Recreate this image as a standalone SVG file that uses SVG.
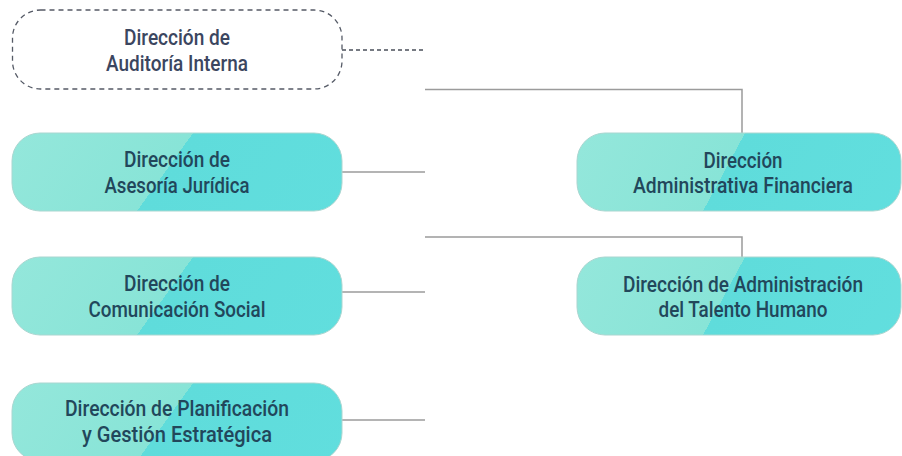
<svg xmlns="http://www.w3.org/2000/svg" width="902" height="456" viewBox="0 0 902 456">
  <defs>
    <linearGradient id="fillL" gradientUnits="userSpaceOnUse" x1="0" y1="0" x2="330" y2="236.9">
      <stop offset="0" stop-color="#94e7db"/>
      <stop offset="0.362" stop-color="#88e4d7"/>
      <stop offset="0.362" stop-color="#5fdcdb"/>
      <stop offset="1" stop-color="#62dfdf"/>
    </linearGradient>
    <linearGradient id="fillR" gradientUnits="userSpaceOnUse" x1="0" y1="0" x2="324" y2="174.5">
      <stop offset="0" stop-color="#94e7db"/>
      <stop offset="0.402" stop-color="#88e4d7"/>
      <stop offset="0.402" stop-color="#5fdcdb"/>
      <stop offset="1" stop-color="#62dfdf"/>
    </linearGradient>
    <style>
      .box { stroke: #a9d6d0; stroke-width: 1; }
      .boxL { fill: url(#fillL); }
      .boxR { fill: url(#fillR); }
      .dash { fill: #ffffff; stroke: #555a66; stroke-width: 1.3; stroke-dasharray: 5 4; }
      .t { font-family: Roboto, "Liberation Sans", sans-serif; font-size: 22px; font-weight: 500; fill: #22475b; text-anchor: middle; }
      .td { fill: #3b4660; }
      .c { fill: none; stroke: #9b9b9b; stroke-width: 1.5; }
      .cd { fill: none; stroke: #4a4f5a; stroke-width: 1.5; stroke-dasharray: 4 3; }
    </style>
  </defs>

  <g id="connectors">
    <line class="cd" x1="342" y1="50" x2="425" y2="50"/>
    <polyline class="c" points="425,89.5 742,89.5 742,133"/>
    <line class="c" x1="342" y1="172" x2="425" y2="172"/>
    <polyline class="c" points="425,237 742,237 742,257"/>
    <line class="c" x1="342" y1="292" x2="425" y2="292"/>
    <line class="c" x1="342" y1="420" x2="425" y2="420"/>
  </g>

  <g id="auditoria">
    <rect class="dash" x="12.5" y="10" width="329.5" height="79" rx="28"/>
    <text class="t td" x="177" y="45" textLength="106" lengthAdjust="spacingAndGlyphs">Dirección de</text>
    <text class="t td" x="177" y="71" textLength="142" lengthAdjust="spacingAndGlyphs">Auditoría Interna</text>
  </g>

  <g id="asesoria" transform="translate(12,133)">
    <rect class="box boxL" x="0" y="0" width="330" height="78" rx="28"/>
    <text class="t" x="165" y="34" textLength="106" lengthAdjust="spacingAndGlyphs">Dirección de</text>
    <text class="t" x="165" y="60" textLength="145" lengthAdjust="spacingAndGlyphs">Asesoría Jurídica</text>
  </g>

  <g id="comunicacion" transform="translate(12,257)">
    <rect class="box boxL" x="0" y="0" width="330" height="78" rx="28"/>
    <text class="t" x="165" y="34" textLength="106" lengthAdjust="spacingAndGlyphs">Dirección de</text>
    <text class="t" x="165" y="60" textLength="177" lengthAdjust="spacingAndGlyphs">Comunicación Social</text>
  </g>

  <g id="planificacion" transform="translate(12,383)">
    <rect class="box boxL" x="0" y="0" width="330" height="78" rx="28"/>
    <text class="t" x="165" y="33" textLength="224" lengthAdjust="spacingAndGlyphs">Dirección de Planificación</text>
    <text class="t" x="165" y="59" textLength="190" lengthAdjust="spacingAndGlyphs">y Gestión Estratégica</text>
  </g>

  <g id="financiera" transform="translate(577,133)">
    <rect class="box boxR" x="0" y="0" width="324" height="78" rx="28"/>
    <text class="t" x="166" y="35" textLength="79" lengthAdjust="spacingAndGlyphs">Dirección</text>
    <text class="t" x="166" y="60" textLength="220" lengthAdjust="spacingAndGlyphs">Administrativa Financiera</text>
  </g>

  <g id="talento" transform="translate(577,257)">
    <rect class="box boxR" x="0" y="0" width="324" height="78" rx="28"/>
    <text class="t" x="166" y="35" textLength="240" lengthAdjust="spacingAndGlyphs">Dirección de Administración</text>
    <text class="t" x="166" y="60" textLength="169" lengthAdjust="spacingAndGlyphs">del Talento Humano</text>
  </g>
</svg>
